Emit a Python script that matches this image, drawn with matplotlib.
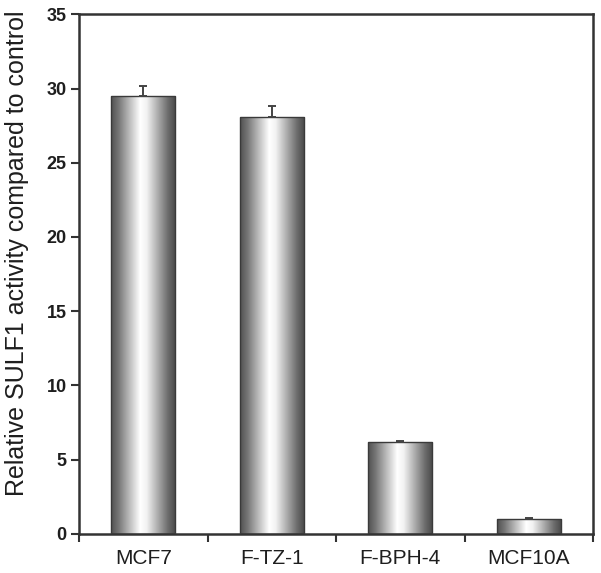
import numpy as np
import matplotlib
matplotlib.use('Agg')
import matplotlib.pyplot as plt
from matplotlib.colors import LinearSegmentedColormap

plt.rcParams['font.family'] = ['Liberation Sans', 'DejaVu Sans']

# data
cells = ['MCF7', 'F-TZ-1', 'F-BPH-4', 'MCF10A']
activity = [29.5, 28.1, 6.15, 1.0]
err = [0.7, 0.75, 0.1, 0.05]
yticks = [0, 5, 10, 15, 20, 25, 30, 35]

# cylinder-like shading for the bars
shade = LinearSegmentedColormap.from_list('cyl', [
    (0.0, '#505050'), (0.12, '#787878'), (0.45, '#ffffff'),
    (0.55, '#f2f2f2'), (0.88, '#6c6c6c'), (1.0, '#484848')])
grad = np.linspace(0, 1, 256).reshape(1, -1)

fig = plt.figure(figsize=(6.01, 5.73), dpi=100)
ax = fig.add_axes([79 / 601, 1 - 533.7 / 573, (593 - 79) / 601, (533.7 - 14.3) / 573])

x = np.arange(len(cells))
bars = ax.bar(x, activity, width=0.5, facecolor='none', edgecolor='#3a3a3a', lw=1.0, zorder=3)
for b in bars:
    x0, y0 = b.get_x(), b.get_y()
    im = ax.imshow(grad, cmap=shade, aspect='auto', zorder=2,
                   extent=[x0, x0 + b.get_width(), y0, y0 + b.get_height()])
    im.set_clip_path(b)

ax.errorbar(x, activity, yerr=[np.zeros(len(err)), err], fmt='none',
            ecolor='#444444', elinewidth=1.4, capsize=3, capthick=1.4, zorder=4)

ax.set_xlim(-0.5, 3.5)
ax.set_ylim(0, 35)
ax.set_yticks(yticks)
ax.set_yticklabels([str(v) for v in yticks], fontsize=13, fontweight='bold', color='#1e1e1e')
ax.set_xticks(np.arange(-0.5, 4.0, 1.0))
ax.set_xticklabels([])
ax.set_xticks(x, minor=True)
ax.set_xticklabels(cells, minor=True, fontsize=15, color='#1e1e1e')
ax.tick_params(axis='x', which='minor', length=0, pad=11)
ax.tick_params(axis='x', which='major', length=6, width=1.5, color='#333333', direction='out')
ax.tick_params(axis='y', length=6, width=1.5, color='#333333', direction='out', pad=3)

for s in ax.spines.values():
    s.set_linewidth(1.8)
    s.set_color('#333333')

ax.set_ylabel('Relative SULF1 activity compared to control', fontsize=18, color='#1e1e1e')
ax.yaxis.set_label_coords(-0.098, 0.54)

fig.savefig('out.png', dpi=100)
